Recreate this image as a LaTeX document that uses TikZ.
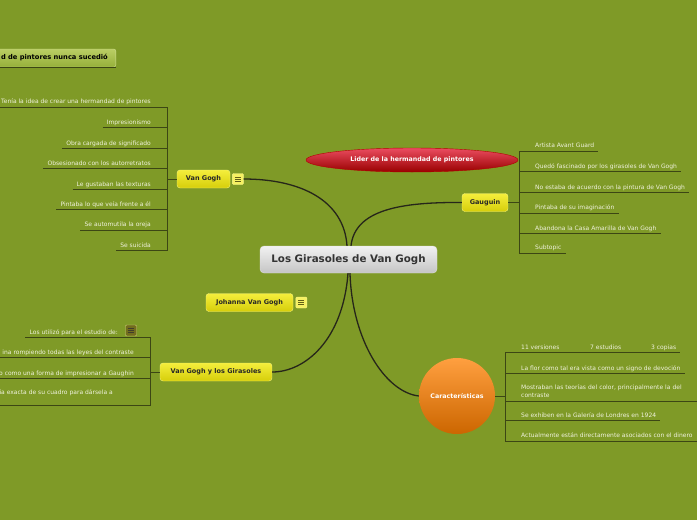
\documentclass[tikz,border=0pt]{standalone}
\usepackage{fontspec}
\setmainfont{DejaVu Sans}
\usetikzlibrary{positioning,shapes.geometric}

\definecolor{bgcol}{RGB}{127,154,39}
\definecolor{linkcol}{RGB}{38,38,26}
\definecolor{spinecol}{RGB}{60,70,20}
\definecolor{leafcol}{RGB}{240,242,222}
\definecolor{topictop}{RGB}{244,238,60}
\definecolor{topicbot}{RGB}{214,206,10}
\definecolor{topicedge}{RGB}{246,242,120}
\definecolor{notetop}{RGB}{186,206,100}
\definecolor{notebot}{RGB}{150,176,58}

\tikzset{
  root/.style={rectangle, rounded corners=4pt, top color=white!95!black, bottom color=white!77!black,
    draw=white!88!black, text=black!80, font=\bfseries\fontsize{10.3}{12}\selectfont,
    minimum width=177pt, minimum height=27pt, inner sep=0pt},
  topic/.style={rectangle, rounded corners=3pt, top color=topictop, bottom color=topicbot,
    draw=topicedge, text=black!85, font=\bfseries\fontsize{6.5}{8}\selectfont,
    minimum height=18pt, inner sep=0pt},
  leaf/.style={font=\fontsize{6}{8}\selectfont, text=leafcol, inner xsep=4pt, inner ysep=3pt, text depth=0pt},
  link/.style={linkcol, line width=1.3pt},
  spine/.style={spinecol, line width=0.9pt},
  toggle/.style={rectangle, rounded corners=1pt, minimum size=11pt, inner sep=0pt,
    fill=#1!80!white, draw=#1!60!white,
    path picture={\foreach \dy in {-2.2,0,2.2}
      \draw[#1!40!black, line width=0.6pt] ([xshift=-3pt,yshift=\dy pt]path picture bounding box.center) -- ++(6pt,0);}},
  toggle/.default=topictop,
}

\begin{document}
\begin{tikzpicture}[x=1pt, y=-1pt]
        % Canvas
        \useasboundingbox[fill=bgcol] (0,0) rectangle (697,520);

        % Main nodes
        \node[root] (root) at (348.5,259.5) {Los Girasoles de Van Gogh};
        \node[topic, minimum width=53pt] (vangogh) at (203.5,179) {Van Gogh};
        \node[toggle, right=2pt of vangogh] (vgtoggle) {};
        \node[topic, minimum width=46pt] (gauguin) at (485,202.5) {Gauguin};
        \node[topic, minimum width=87pt] (johanna) at (249.5,302.5) {Johanna Van Gogh};
        \node[toggle, right=2.5pt of johanna] (jhtoggle) {};
        \node[topic, minimum width=112pt] (girasoles) at (216,372) {Van Gogh y los Girasoles};
        \node[ellipse, minimum width=212pt, minimum height=24pt, inner sep=0pt,
              top color=red!55!purple!70!white, bottom color=red!60!black, draw=red!70!black,
              text=white, font=\bfseries\fontsize{6.3}{8}\selectfont] (lider) at (412,160)
              {Lider de la hermandad de pintores};
        \node[circle, minimum size=76pt, inner sep=0pt,
              top color=orange!75!white, middle color=orange!90!red, bottom color=orange!80!black,
              text=white, font=\bfseries\fontsize{6.3}{8}\selectfont] (caract) at (457,396)
              {Características};
        \node[rectangle, rounded corners=2pt, top color=notetop, bottom color=notebot,
              draw=notetop!70!white, anchor=east, minimum height=18pt, inner xsep=8pt,
              font=\bfseries\fontsize{6.7}{8}\selectfont] (nunca) at (116,58)
              {d de pintores nunca sucedió};
        \draw[spinecol, line width=1pt] ([yshift=-0.6pt]nunca.south west) -- ([yshift=-0.6pt]nunca.south east);

        % Links from the root
        \draw[link] ([xshift=-1.5pt]root.north) .. controls (344,200) and (300,179) .. (vgtoggle.east);
        \draw[link] ([xshift=2.5pt]root.north) .. controls (355,210) and (400,202) .. (gauguin.west);
        \draw[link] ([xshift=-0.5pt]root.south) .. controls (343,340) and (305,372) .. (girasoles.east);
        \draw[link] ([xshift=1.5pt]root.south) .. controls (352,340) and (385,392) .. (caract.west);

        % Van Gogh
        \coordinate (vgtop) at (167,107);
        \coordinate (vgbot) at (167,250.7);
        \draw[spine] (vgtop) -- (vgbot);
        \draw[spine] (vgtop |- vangogh) -- (vangogh.west);
        \foreach \y/\txt [count=\i] in {
            107/{Tenía la idea de crear una hermandad de pintores},
            127.7/{Impresionismo},
            148.3/{Obra cargada de significado},
            168.7/{Obsesionado con los autorretratos},
            189.3/{Le gustaban las texturas},
            209.3/{Pintaba lo que veía frente a él},
            230/{Se automutila la oreja},
            250.7/{Se suicida}
        } {
            \node[leaf, anchor=south east] (vg\i) at (155,\y) {\txt};
            \draw[spine] (vg\i.south west) -- (vg\i.south west -| vgtop);
        }

        % Gauguin
        \coordinate (gatop) at (519,151);
        \coordinate (gabot) at (519,253);
        \draw[spine] (gatop) -- (gabot);
        \draw[spine] (gauguin.east) -- (gauguin.east -| gatop);
        \foreach \y/\txt [count=\i] in {
            151/{Artista Avant Guard},
            171.7/{Quedó fascinado por los girasoles de Van Gogh},
            192.3/{No estaba de acuerdo con la pintura de Van Gogh},
            213/{Pintaba de su imaginación},
            233.7/{Abandona la Casa Amarilla de Van Gogh},
            253/{Subtopic}
        } {
            \node[leaf, anchor=south west] (ga\i) at (531,\y) {\txt};
            \draw[spine] (ga\i.south west -| gatop) -- (ga\i.south east);
        }

        % Caracteristicas
        \coordinate (catop) at (505,352.3);
        \coordinate (cabot) at (505,441);
        \draw[spine] (catop) -- (cabot);
        \draw[spine] (caract.east) -- (caract.east -| catop);
        \node[leaf, anchor=south west] (ca1) at (517,352.3) {11 versiones};
        \node[leaf, anchor=south west] (ca1b) at (586,352.3) {7 estudios};
        \node[leaf, anchor=south west] (ca1c) at (647,352.3) {3 copias};
        \draw[spine] (catop) -- (ca1c.south east);
        \node[leaf, anchor=south west] (ca2) at (517,373.3) {La flor como tal era vista como un signo de devoción};
        \node[leaf, anchor=south west, align=left, text width=180pt, text depth=, inner ysep=3pt] (ca3) at (517,401)
            {Mostraban las teorías del color, principalmente la del\\contraste};
        \node[leaf, anchor=south west] (ca4) at (517,420.3) {Se exhiben en la Galería de Londres en 1924};
        \node[leaf, anchor=south west] (ca5) at (517,441) {Actualmente están directamente asociados con el dinero};
        \foreach \n in {ca2,ca3,ca4,ca5}
            \draw[spine] (\n.south west -| catop) -- (\n.south east);

        % Van Gogh y los Girasoles
        \coordinate (gitop) at (150.7,337.3);
        \coordinate (gibot) at (150.7,405.7);
        \draw[spine] (gitop) -- (gibot);
        \draw[spine] (gitop |- girasoles) -- (girasoles.west);
        \node[leaf, anchor=south east] (gi1) at (122,337.3) {Los utilizó para el estudio de:};
        \node[toggle=olive!70!black, fill=olive!75!black, draw=olive!40!white] (gitoggle) at (131,330.5) {};
        \draw[spine] (gi1.south west) -- (gitop);
        \node[leaf, anchor=south east] (gi2) at (138,357.7) {ina rompiendo todas las leyes del contraste};
        \node[leaf, anchor=south east] (gi3) at (138,378.3) {o como una forma de impresionar a Gaughin};
        \node[leaf, anchor=south east, inner ysep=11pt] (gi4) at (117,405.7) {ia exacta de su cuadro para dársela a};
        \foreach \n in {gi2,gi3}
            \draw[spine] (\n.south west) -- (\n.south west -| gitop);
        \draw[spine] (0,405.7) -- (gibot);
    \end{tikzpicture}
\end{document}
